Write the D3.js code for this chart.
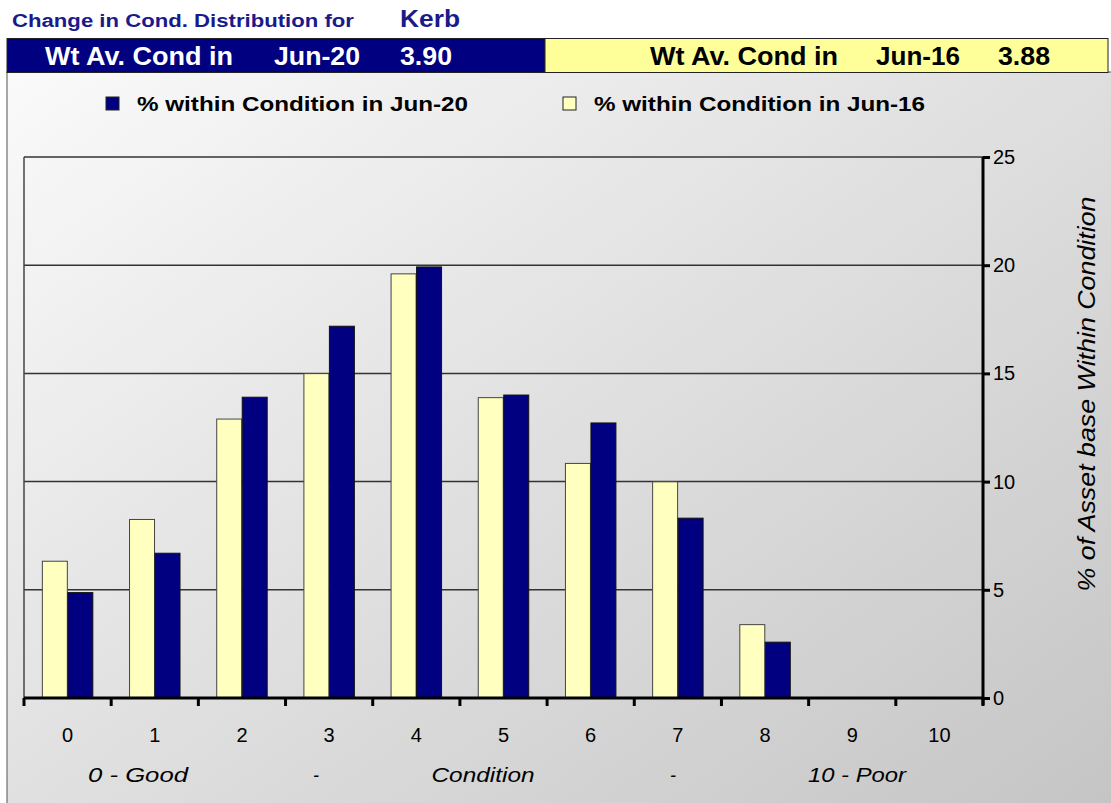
<!DOCTYPE html>
<html>
<head>
<meta charset="utf-8">
<script src="https://cdn.jsdelivr.net/npm/d3@7"></script>
<style>
  body { margin: 0; background: #fff; }
  text { font-family: "Liberation Sans", Arial, sans-serif; }
</style>
</head>
<body>
<div id="chart"></div>
<script>
const categories = ["0", "1", "2", "3", "4", "5", "6", "7", "8", "9", "10"];
const jun20 = [4.87, 6.69, 13.9, 17.18, 19.92, 14.0, 12.71, 8.31, 2.58, 0, 0];
const jun16 = [6.32, 8.25, 12.89, 14.99, 19.6, 13.88, 10.84, 9.99, 3.39, 0, 0];
const yTicks = [0, 5, 10, 15, 20, 25];
const conditionLabels = ["0 - Good", "-", "Condition", "-", "10 - Poor"];
const seriesNames = ["% within Condition in Jun-20", "% within Condition in Jun-16"];

const W = 1111, H = 803;
const plot = {left: 24, right: 983, top: 157, bottom: 698};

const svg = d3.select("#chart").append("svg")
  .attr("width", W).attr("height", H);

const defs = svg.append("defs");
const grad = defs.append("linearGradient")
  .attr("id", "bg").attr("x1", "0%").attr("y1", "0%").attr("x2", "100%").attr("y2", "100%");
grad.append("stop").attr("offset", "0%").attr("stop-color", "#fafafa");
grad.append("stop").attr("offset", "100%").attr("stop-color", "#c2c2c2");

// panel
svg.append("rect")
  .attr("x", 7).attr("y", 72).attr("width", W + 10).attr("height", H)
  .attr("fill", "url(#bg)").attr("stroke", "#555").attr("stroke-width", 1);

// the source screenshot is stretched sideways, so text widths are fixed with textLength
function stretch(sel, len) {
  sel.attr("textLength", len).attr("lengthAdjust", "spacingAndGlyphs");
}

// title
svg.append("text").attr("x", 12).attr("y", 27)
  .attr("font-size", 18).attr("font-weight", "bold").attr("fill", "#1a1a8a")
  .text("Change in Cond. Distribution for").call(stretch, 342);
svg.append("text").attr("x", 400).attr("y", 27)
  .attr("font-size", 23).attr("font-weight", "bold").attr("fill", "#1a1a8a")
  .text("Kerb").call(stretch, 60);

// header bars
svg.append("rect").attr("x", 7).attr("y", 38.5).attr("width", 538).attr("height", 34)
  .attr("fill", "#000080").attr("stroke", "#222");
svg.append("rect").attr("x", 545).attr("y", 38.5).attr("width", 563).attr("height", 34)
  .attr("fill", "#ffff99").attr("stroke", "#222");

const hdr = [
  {x: 45, w: 188, t: "Wt Av. Cond in", c: "#fff"}, {x: 274, w: 86, t: "Jun-20", c: "#fff"}, {x: 400, w: 52, t: "3.90", c: "#fff"},
  {x: 650, w: 188, t: "Wt Av. Cond in", c: "#000"}, {x: 876, w: 84, t: "Jun-16", c: "#000"}, {x: 998, w: 52, t: "3.88", c: "#000"}
];
svg.selectAll(".hdr").data(hdr).join("text")
  .attr("x", d => d.x).attr("y", 65)
  .attr("font-size", 25).attr("font-weight", "bold").attr("fill", d => d.c)
  .attr("textLength", d => d.w).attr("lengthAdjust", "spacingAndGlyphs")
  .text(d => d.t);

// legend
const legend = [
  {x: 106, fill: "#000080", name: seriesNames[0]},
  {x: 563, fill: "#ffffc0", name: seriesNames[1]}
];
svg.selectAll(".lgbox").data(legend).join("rect")
  .attr("x", d => d.x).attr("y", 97).attr("width", 13).attr("height", 13)
  .attr("fill", d => d.fill).attr("stroke", "#222");
svg.selectAll(".lgtxt").data(legend).join("text")
  .attr("x", d => d.x + 31).attr("y", 111)
  .attr("font-size", 20).attr("font-weight", "bold").attr("fill", "#000")
  .attr("textLength", 331).attr("lengthAdjust", "spacingAndGlyphs")
  .text(d => d.name);

// scales
const x = d3.scaleBand().domain(categories).range([plot.left, plot.right]).paddingInner(0).paddingOuter(0);
const x1 = d3.scaleBand().domain(["jun16", "jun20"]).range([0, x.bandwidth()]).paddingInner(0.02).paddingOuter(0.72);
const y = d3.scaleLinear().domain([0, 25]).range([plot.bottom, plot.top]);

const g = svg.append("g");

// gridlines
g.selectAll(".grid").data(yTicks.filter(v => v > 0)).join("line")
  .attr("x1", plot.left).attr("x2", plot.right)
  .attr("y1", d => y(d)).attr("y2", d => y(d))
  .attr("stroke", "#333").attr("stroke-width", 1.5);

// left frame
g.append("line").attr("x1", plot.left).attr("x2", plot.left)
  .attr("y1", plot.top).attr("y2", plot.bottom)
  .attr("stroke", "#444").attr("stroke-width", 1.5);

// bars
const rows = categories.map((c, i) => ({c, jun16: jun16[i], jun20: jun20[i]}));
const groups = g.selectAll(".grp").data(rows).join("g")
  .attr("transform", d => `translate(${x(d.c)},0)`);
groups.append("rect")
  .attr("x", x1("jun16")).attr("width", x1.bandwidth())
  .attr("y", d => y(d.jun16)).attr("height", d => y(0) - y(d.jun16))
  .attr("fill", "#ffffc0").attr("stroke", "#444").attr("stroke-width", 1)
  .style("display", d => d.jun16 > 0 ? null : "none");
groups.append("rect")
  .attr("x", x1("jun20")).attr("width", x1.bandwidth())
  .attr("y", d => y(d.jun20)).attr("height", d => y(0) - y(d.jun20))
  .attr("fill", "#000080").attr("stroke", "#111").attr("stroke-width", 1)
  .style("display", d => d.jun20 > 0 ? null : "none");

// right y axis
const yAxis = g.append("g")
  .attr("transform", `translate(${plot.right},0)`)
  .call(d3.axisRight(y).tickValues(yTicks).tickSize(7).tickPadding(3));
yAxis.select(".domain").attr("stroke", "#000").attr("stroke-width", 3)
  .attr("d", `M0,${plot.top}V${plot.bottom + 7}`);
yAxis.selectAll(".tick line").attr("stroke", "#000").attr("stroke-width", 3);
yAxis.selectAll(".tick text")
  .attr("font-size", 20).attr("fill", "#000")
  .style("font-family", "'Liberation Sans', Arial, sans-serif");

// bottom x axis
const tickPos = categories.map(c => x(c)).concat([plot.right]);
const xAxisG = g.append("g");
xAxisG.append("line")
  .attr("x1", plot.left).attr("x2", plot.right)
  .attr("y1", plot.bottom).attr("y2", plot.bottom)
  .attr("stroke", "#000").attr("stroke-width", 3);
xAxisG.selectAll(".xt").data(tickPos).join("line")
  .attr("x1", d => d).attr("x2", d => d)
  .attr("y1", plot.bottom).attr("y2", plot.bottom + 8)
  .attr("stroke", "#000").attr("stroke-width", 3);
xAxisG.selectAll(".xl").data(categories).join("text")
  .attr("x", d => x(d) + x.bandwidth() / 2).attr("y", 742)
  .attr("text-anchor", "middle").attr("font-size", 20).attr("fill", "#000")
  .text(d => d);

// condition labels
const condX = [138, 316, 483, 673, 857];
const condW = [100, 6, 103, 6, 98];
svg.selectAll(".cond").data(conditionLabels).join("text")
  .attr("x", (d, i) => condX[i]).attr("y", 782)
  .attr("text-anchor", "middle").attr("font-size", 21).attr("font-style", "italic").attr("fill", "#000")
  .attr("textLength", (d, i) => condW[i]).attr("lengthAdjust", "spacingAndGlyphs")
  .text(d => d);

// y axis title
svg.append("text")
  .attr("transform", `translate(1095,394) rotate(-90)`)
  .attr("text-anchor", "middle").attr("font-size", 24).attr("font-style", "italic").attr("fill", "#000")
  .attr("textLength", 395).attr("lengthAdjust", "spacingAndGlyphs")
  .text("% of Asset base Within Condition");
</script>
</body>
</html>
